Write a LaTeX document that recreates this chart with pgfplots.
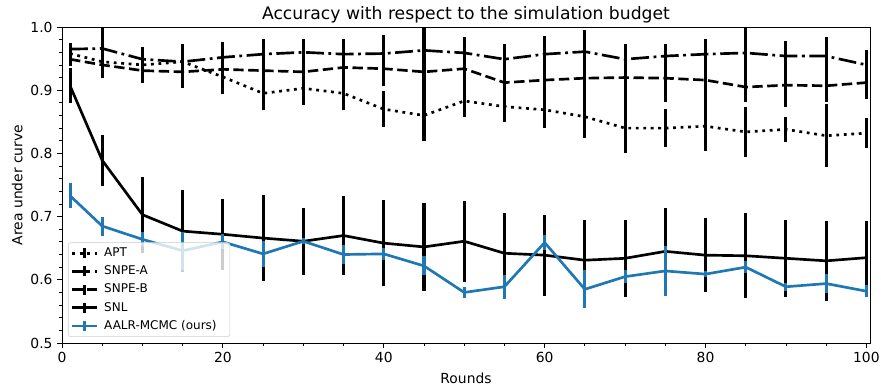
\documentclass[border=0pt]{standalone}
\usepackage{fontspec}
\setmainfont{DejaVu Sans}
\usepackage{pgfplots}
\usepackage{pgfplotstable}
\pgfplotsset{compat=1.18}
\definecolor{mplblue}{HTML}{1F77B4}

\pgfplotstableread{
x y e
1 0.958 0.010
5 0.945 0.020
10 0.940 0.020
15 0.945 0.020
20 0.921 0.027
25 0.895 0.026
30 0.903 0.026
35 0.895 0.026
40 0.870 0.029
45 0.860 0.041
50 0.883 0.025
55 0.874 0.025
60 0.869 0.029
65 0.858 0.034
70 0.840 0.040
75 0.840 0.030
80 0.843 0.039
85 0.834 0.039
90 0.838 0.020
95 0.828 0.050
100 0.832 0.024
}\apt

\pgfplotstableread{
x y e
1 0.965 0.010
5 0.966 0.033
10 0.949 0.019
15 0.945 0.028
20 0.952 0.024
25 0.957 0.024
30 0.960 0.021
35 0.957 0.024
40 0.958 0.030
45 0.963 0.035
50 0.959 0.025
55 0.949 0.024
60 0.957 0.029
65 0.961 0.034
70 0.949 0.024
75 0.954 0.019
80 0.957 0.024
85 0.959 0.039
90 0.954 0.024
95 0.954 0.030
100 0.940 0.023
}\snpea

\pgfplotstableread{
x y e
1 0.949 0.010
5 0.940 0.021
10 0.931 0.020
15 0.929 0.025
20 0.933 0.039
25 0.931 0.030
30 0.929 0.030
35 0.936 0.030
40 0.934 0.028
45 0.929 0.030
50 0.934 0.030
55 0.912 0.030
60 0.916 0.030
65 0.919 0.035
70 0.920 0.040
75 0.919 0.038
80 0.916 0.040
85 0.905 0.024
90 0.908 0.034
95 0.907 0.025
100 0.912 0.026
}\snpeb

\pgfplotstableread{
x y e
1 0.907 0.028
5 0.789 0.040
10 0.703 0.060
15 0.677 0.065
20 0.672 0.056
25 0.666 0.068
30 0.661 0.053
35 0.670 0.063
40 0.658 0.068
45 0.652 0.069
50 0.661 0.064
55 0.642 0.064
60 0.639 0.064
65 0.631 0.063
70 0.634 0.061
75 0.645 0.068
80 0.639 0.058
85 0.638 0.067
90 0.634 0.061
95 0.630 0.063
100 0.635 0.058
}\snl

\pgfplotstableread{
x y e
1 0.733 0.020
5 0.685 0.015
10 0.664 0.011
15 0.646 0.030
20 0.660 0.012
25 0.641 0.021
30 0.661 0.005
35 0.640 0.015
40 0.641 0.010
45 0.622 0.015
50 0.580 0.009
55 0.589 0.019
60 0.659 0.012
65 0.585 0.030
70 0.605 0.010
75 0.614 0.040
80 0.609 0.005
85 0.620 0.009
90 0.589 0.006
95 0.594 0.015
100 0.582 0.009
}\aalr

\begin{document}
\begin{tikzpicture}
\begin{axis}[
  scale only axis, width=606pt, height=237pt,
  xmin=0, xmax=100.45, ymin=0.5, ymax=1.0,
  xtick={0,20,...,100}, minor xtick={5,10,...,95},
  ytick={0.5,0.6,0.7,0.8,0.9,1.0},
  minor ytick={0.52,0.54,...,0.99},
  tick align=outside, tick pos=left,
  major tick length=3.6pt, minor tick length=2.1pt,
  every tick/.style={black, line width=0.6pt},
  axis line style={line width=0.6pt},
  yticklabel style={/pgf/number format/.cd, fixed, fixed zerofill, precision=1},
  /pgf/number format/assume math mode=true,
  ticklabel style={font=\fontsize{10.4}{12}\selectfont},
  xticklabel style={yshift=0.5pt},
  label style={font=\fontsize{10.4}{12}\selectfont},
  xlabel style={yshift=-1pt},
  ylabel style={yshift=-1pt},
  title={Accuracy with respect to the simulation budget},
  title style={font=\fontsize{12.9}{15}\selectfont, yshift=-6.3pt},
  xlabel={Rounds}, ylabel={Area under curve},
  legend cell align=left,
  legend style={at={(0.0074,0.019)}, anchor=south west,
    font=\fontsize{9}{10.5}\selectfont, draw=black!20, rounded corners=2pt,
    fill=white, fill opacity=0.8, text opacity=1, draw opacity=1,
    row sep=1.4pt, inner xsep=2pt, inner ysep=2pt},
  legend image code/.code={
    \draw[#1] (0pt,0pt) -- (18.75pt,0pt);
    \draw[#1, solid, line width=2.2pt] (9.4pt,-3.75pt) -- (9.4pt,3.75pt);
    \path (21pt,0pt);
  },
  every axis plot/.append style={line width=2pt},
  error bars/y dir=both, error bars/y explicit, error bars/error mark=none,
  error bars/error bar style={line width=2.3pt, solid},
]
\addplot[black, dash pattern=on 2.1pt off 3.5pt] table[x=x, y=y, y error=e] {\apt};
\addlegendentry{APT}
\addplot[black, dash pattern=on 13.4pt off 3.4pt on 2.1pt off 3.4pt] table[x=x, y=y, y error=e] {\snpea};
\addlegendentry{SNPE-A}
\addplot[black, dash pattern=on 7.8pt off 3.4pt] table[x=x, y=y, y error=e] {\snpeb};
\addlegendentry{SNPE-B}
\addplot[black] table[x=x, y=y, y error=e] {\snl};
\addlegendentry{SNL}
\addplot[mplblue] table[x=x, y=y, y error=e] {\aalr};
\addlegendentry{AALR-MCMC (ours)\hspace*{6pt}}
\end{axis}
\pgfresetboundingbox
\path ([shift={(-46.5pt,-36.75pt)}]current axis.south west) rectangle ([shift={(8.25pt,20.25pt)}]current axis.north east);
\end{tikzpicture}
\end{document}
